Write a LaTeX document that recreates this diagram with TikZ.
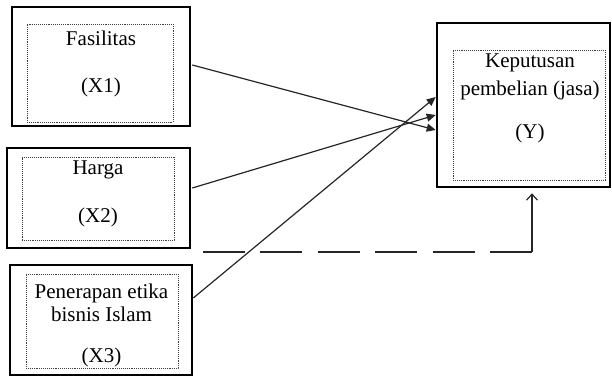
\documentclass[tikz,border=0pt]{standalone}
\usepackage{fontspec}
\setmainfont{Liberation Serif}
\usetikzlibrary{arrows.meta,calc}
\begin{document}
\begin{tikzpicture}[x=1pt,y=-1pt,
  outerbox/.style={draw=black,line width=2.6pt,rectangle,inner sep=0pt},
  innerbox/.style={draw=black!75,densely dotted,line width=0.9pt,rectangle,inner sep=0pt},
  lbl/.style={inner sep=0pt,font=\fontsize{21}{25}\selectfont,text=black},
  conn/.style={draw=black!85,line width=1.2pt,-{Triangle[length=9pt,width=8pt]}},
  dashconn/.style={draw=black!85,line width=1.2pt,dash pattern=on 42pt off 15.4pt},
  upconn/.style={draw=black!85,line width=1.2pt,-{Straight Barb[length=6pt,width=11pt]}}]
\useasboundingbox (0,0) rectangle (612,377);
\fill[white] (0,0) rectangle (612,377);
% Box X1
\node[outerbox,minimum width=178pt,minimum height=119pt] (b1) at (101,66.5) {};
\node[innerbox,minimum width=146pt,minimum height=98pt] (i1) at (100,73) {};
\node[lbl] (t1a) at (101,38) {Fasilitas};
\node[lbl] (t1b) at (101,87) {(X1)};
% Box X2
\node[outerbox,minimum width=183pt,minimum height=100pt] (b2) at (98.5,198) {};
\node[innerbox,minimum width=152pt,minimum height=83pt] (i2) at (98,198.5) {};
\node[lbl] (t2a) at (98,170) {Harga};
\node[lbl] (t2b) at (98,217) {(X2)};
% Box X3
\node[outerbox,minimum width=182pt,minimum height=110pt] (b3) at (101,320) {};
\node[innerbox,minimum width=152pt,minimum height=94pt] (i3) at (102,321) {};
\node[lbl] (t3a) at (101.5,293) {Penerapan etika};
\node[lbl] (t3b) at (101.5,314) {bisnis Islam};
\node[lbl] (t3c) at (101.5,357) {(X3)};
% Box Y
\node[outerbox,minimum width=173pt,minimum height=164pt] (by) at (523.5,105) {};
\node[innerbox,minimum width=152pt,minimum height=130pt] (iy) at (529,115) {};
\node[lbl] (tya) at (530,63) {Keputusan};
\node[lbl] (tyb) at (530,90) {pembelian (jasa)};
\node[lbl] (tyc) at (530,133) {(Y)};
% connectors
\draw[conn] ([xshift=1pt,yshift=1.5pt]b1.east) -- ([yshift=-25pt]by.west);
\draw[conn] ([xshift=1pt,yshift=10pt]b2.east) -- ([yshift=-10pt]by.west);
\draw[conn] ([xshift=0pt,yshift=22pt]b3.east) -- ([yshift=8pt]by.west);
% dashed moderating line
\coordinate (ds) at (203,252);
\coordinate (dc) at (532,252);
\draw[dashconn] (ds) -- (dc);
\draw[upconn,shorten >=5pt] (dc) -- (dc |- by.south);
\end{tikzpicture}
\end{document}
